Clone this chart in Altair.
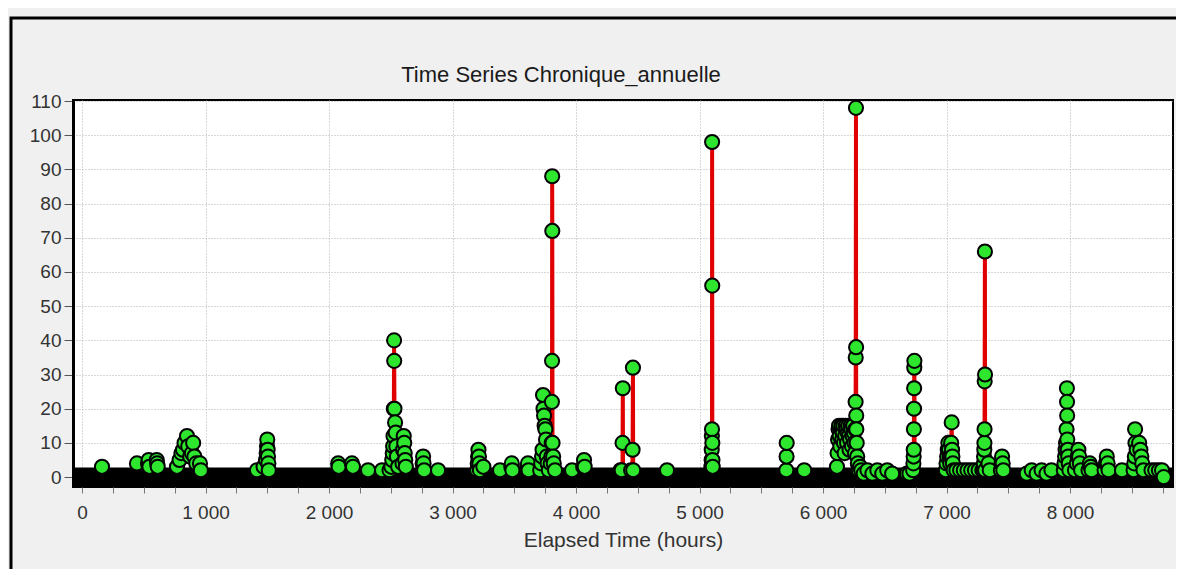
import altair as alt
import pandas as pd

# ---- data (hour, value) ----
hours = [
    0,
    158, 162, 166,
    440, 445, 449, 530, 534, 540, 546, 552, 600, 605, 609, 613, 618,
    760, 769, 790, 805, 818, 830, 850, 860, 875, 890, 900, 910, 925, 955, 962, 970,
    1400, 1417, 1470, 1490, 1495, 1498, 1500, 1503, 1506, 1509, 1512, 1518,
    2070, 2074, 2078, 2082, 2180, 2186, 2194, 2198, 2310, 2316, 2320, 2420, 2429, 2433,
    2480, 2490, 2505, 2512, 2516, 2519, 2522, 2525, 2527, 2528, 2530, 2535, 2540, 2545,
    2550, 2560, 2595, 2600, 2605, 2609, 2613, 2617, 2622, 2630,
    2750, 2758, 2762, 2766, 2770, 2776, 2878, 2883, 2888,
    3195, 3200, 3204, 3207, 3210, 3214, 3218, 3222, 3250, 3258, 3380, 3385, 3390,
    3470, 3476, 3480, 3485, 3490, 3600, 3606, 3611, 3616, 3622,
    3700, 3710, 3718, 3725, 3729, 3733, 3737, 3741, 3746, 3752, 3757, 3763, 3770, 3780,
    3795, 3800, 3803, 3805, 3806, 3807, 3808, 3810, 3815, 3820, 3830, 3840,
    3960, 3968, 3974, 4050, 4058, 4065, 4070, 4078,
    4350, 4360, 4370, 4376, 4377, 4379, 4381, 4446, 4455, 4458, 4461, 4463, 4468,
    4730, 4737, 4744,
    5094, 5096, 5098, 5099, 5100, 5101, 5102, 5103, 5104, 5105, 5107, 5112,
    5698, 5703, 5705, 5706, 5710, 5843, 5848, 5853,
    6108, 6113, 6118, 6122, 6126, 6130, 6135, 6140, 6145, 6150, 6155, 6160, 6165, 6170,
    6175, 6180, 6185, 6190, 6195, 6200, 6205, 6210, 6215, 6220, 6225, 6230, 6235, 6240,
    6245, 6250, 6255, 6259, 6262, 6264, 6265, 6267, 6268, 6269, 6270, 6273, 6277, 6282,
    6290, 6300, 6310, 6330, 6360, 6400, 6440, 6480, 6520, 6560, 6575,
    6660, 6680, 6700, 6725, 6730, 6732, 6734, 6735, 6736, 6737, 6738, 6739, 6740, 6742,
    6985, 6995, 7000, 7005, 7010, 7015, 7020, 7025, 7030, 7035, 7038, 7042, 7045, 7048,
    7052, 7058, 7080, 7110, 7140, 7170, 7200, 7230, 7260, 7290,
    7300, 7302, 7304, 7306, 7307, 7308, 7309, 7311, 7312, 7313, 7340, 7350, 7360,
    7430, 7440, 7445, 7450, 7455, 7460, 7468,
    7640, 7650, 7690, 7730, 7770, 7810, 7850, 7865,
    7945, 7950, 7955, 7960, 7964, 7968, 7972, 7975, 7976, 7977, 7978, 7982, 7986, 7990,
    7995, 8040, 8055, 8062, 8068, 8074, 8080, 8090, 8150, 8160, 8168, 8175,
    8280, 8290, 8298, 8305, 8312, 8320, 8410, 8421, 8428,
    8500, 8515, 8520, 8525, 8527, 8530, 8540, 8560, 8570, 8578, 8585, 8595, 8605,
    8660, 8690, 8720, 8745, 8759,
]
flow = [
    0,
    0, 3, 0,
    0, 4, 0, 0, 4, 5, 3, 0, 0, 5, 4, 3, 0,
    0, 3, 5, 7, 8, 10, 12, 9, 6, 7, 10, 6, 4, 4, 2, 0,
    0, 2, 3, 5, 7, 9, 11, 8, 6, 4, 2, 0,
    0, 4, 3, 0, 0, 4, 3, 0, 0, 2, 0, 0, 2, 0,
    0, 2, 3, 5, 7, 9, 12, 20, 40, 34, 20, 16, 13, 9,
    6, 3, 4, 8, 12, 10, 7, 5, 3, 0,
    0, 4, 6, 4, 2, 0, 0, 2, 0,
    0, 2, 4, 6, 8, 6, 4, 2, 3, 0, 0, 2, 0,
    0, 3, 4, 2, 0, 0, 3, 4, 2, 0,
    0, 2, 4, 6, 8, 24, 20, 18, 15, 14, 11, 6, 4, 2,
    4, 6, 10, 22, 34, 88, 72, 10, 6, 4, 2, 0,
    0, 2, 0, 0, 3, 5, 3, 0,
    0, 2, 2, 0, 10, 26, 0, 2, 0, 8, 32, 2, 0,
    0, 2, 0,
    0, 3, 5, 8, 12, 14, 98, 56, 10, 5, 3, 0,
    0, 2, 6, 10, 0, 0, 2, 0,
    0, 3, 7, 11, 14, 15, 12, 9, 14, 15, 11, 13, 15, 10,
    7, 12, 15, 14, 10, 13, 15, 12, 8, 11, 15, 14, 9, 12,
    15, 13, 10, 7, 14, 22, 35, 108, 38, 18, 14, 10, 6, 4,
    2, 3, 2, 1, 2, 1, 2, 1, 2, 1, 0,
    0, 1, 1, 0, 2, 4, 6, 8, 14, 20, 26, 32, 34, 0,
    0, 2, 4, 6, 8, 10, 8, 6, 4, 6, 10, 16, 8, 6,
    4, 2, 2, 2, 2, 2, 2, 2, 2, 2,
    2, 4, 6, 8, 10, 14, 28, 66, 30, 2, 4, 2, 0,
    0, 2, 4, 6, 4, 2, 0,
    0, 1, 2, 1, 2, 1, 2, 0,
    0, 2, 4, 6, 8, 10, 14, 26, 22, 18, 11, 8, 6, 4,
    2, 2, 4, 6, 8, 6, 4, 2, 2, 4, 3, 2,
    2, 4, 6, 4, 2, 0, 0, 2, 0,
    0, 2, 4, 6, 14, 10, 8, 10, 8, 6, 4, 2, 0,
    2, 2, 2, 2, 0,
]

x_ticks = list(range(0, 8751, 250))
y_ticks = list(range(0, 111, 10))
title_text = "Time Series Chronique_annuelle"
x_title = "Elapsed Time (hours)"

W, H = 1100, 387
X_DOMAIN = [-73, 8834]
Y_DOMAIN = [-2.9, 110.3]

df = pd.DataFrame({"hour": hours, "value": flow})
band_df = pd.DataFrame({"start": [min(hours)], "end": [max(hours)], "level": [0]})
frame_df = pd.DataFrame({"k": [0]})

x_scale = alt.Scale(domain=X_DOMAIN, nice=False, zero=False)
y_scale = alt.Scale(domain=Y_DOMAIN, nice=False, zero=False)

x_axis = alt.Axis(
    values=x_ticks,
    labelExpr="datum.value % 1000 == 0 ? replace(format(datum.value, ','), ',', ' ') : ''",
    labelOverlap=False,
    labelFlush=False,
    domain=False,
    tickSize=6,
    tickColor="#777777",
    labelPadding=10,
    titlePadding=7,
    grid=True,
    gridOpacity={"condition": {"test": "datum.value % 1000 == 0", "value": 1}, "value": 0},
)
y_axis = alt.Axis(
    values=y_ticks,
    domain=True,
    domainColor="black",
    domainWidth=3,
    tickSize=9,
    tickColor="#555555",
    labelPadding=3,
    grid=True,
)

X = lambda f: alt.X(f, scale=x_scale, axis=x_axis, title=x_title)
Y = lambda f: alt.Y(f, scale=y_scale, axis=y_axis, title=None)

frame = alt.Chart(frame_df).mark_rect(
    fillOpacity=0, stroke="black", strokeWidth=3
).encode(
    x=alt.value(-62), x2=alt.value(W + 200), y=alt.value(-82), y2=alt.value(H + 200)
)

line = alt.Chart(df).mark_line(color="#e00000", strokeWidth=4).encode(
    x=X("hour:Q"), y=Y("value:Q")
)

band = alt.Chart(band_df).mark_rule(color="black", strokeWidth=19, strokeCap="square").encode(
    x=X("start:Q"), x2="end:Q", y=Y("level:Q")
)

points = alt.Chart(df).transform_filter(
    "datum.value > 0 || datum.hour == 8759"
).mark_circle(size=200, color="#2ee62e", stroke="black", strokeWidth=2, opacity=1).encode(
    x=X("hour:Q"), y=Y("value:Q")
)

chart = alt.layer(frame, line, band, points).properties(
    width=W,
    height=H,
    autosize=alt.AutoSizeParams(type="none"),
    padding={"left": 65, "top": 92, "right": 3, "bottom": 82},
    title=alt.TitleParams(
        title_text,
        fontSize=22,
        font="Liberation Sans",
        fontWeight="normal",
        color="#1a1a1a",
        anchor="middle",
        frame="group",
        dx=-62,
        offset=-87.5,
        baseline="alphabetic",
    ),
).configure(
    background="#f0f0f0",
).configure_view(
    fill="white", stroke="black", strokeWidth=2
).configure_axis(
    labelFont="Liberation Sans",
    labelFontSize=19,
    labelColor="#333333",
    titleFont="Liberation Sans",
    titleFontSize=21,
    titleFontWeight="normal",
    titleColor="#333333",
    gridColor="#b0b0b0",
    gridDash=[1, 2],
    gridWidth=1,
)

chart.save("out.html", embed_options={"renderer": "svg", "actions": False})
